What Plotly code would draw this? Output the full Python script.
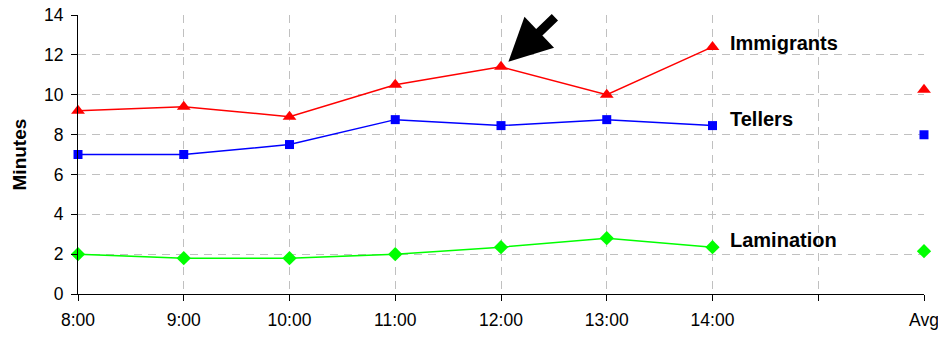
import plotly.graph_objects as go

# Hourly waiting times (minutes) per service desk, plus the overall average
categories = ["8:00", "9:00", "10:00", "11:00", "12:00", "13:00", "14:00", "", "Avg"]
hours = categories[:7]

immigrants = [9.2, 9.4, 8.9, 10.5, 11.4, 10.0, 12.4]
tellers = [7.0, 7.0, 7.5, 8.75, 8.45, 8.75, 8.45]
lamination = [2.0, 1.8, 1.8, 2.0, 2.35, 2.8, 2.35]

immigrants_avg = 10.25
tellers_avg = 7.99
lamination_avg = 2.15

y_ticks = [0, 2, 4, 6, 8, 10, 12, 14]

series = [
    ("Immigrants", immigrants, immigrants_avg, "#ff0000", "triangle-up", 12),
    ("Tellers", tellers, tellers_avg, "#0000ff", "square", 9),
    ("Lamination", lamination, lamination_avg, "#00ff00", "diamond", 11),
]

x_hours = list(range(len(hours)))
x_avg = categories.index("Avg")

fig = go.Figure()
for name, values, avg, color, symbol, size in series:
    fig.add_trace(go.Scatter(
        x=x_hours, y=values, mode="lines+markers", name=name,
        line=dict(color=color, width=1.5),
        marker=dict(color=color, symbol=symbol, size=size),
        cliponaxis=False, showlegend=False,
    ))
    fig.add_trace(go.Scatter(
        x=[x_avg], y=[avg], mode="markers", name=name + " avg",
        marker=dict(color=color, symbol=symbol, size=size),
        cliponaxis=False, showlegend=False,
    ))

# Series labels next to the last hourly point
label_pos = {"Immigrants": 12.6, "Tellers": 8.8, "Lamination": 2.71}
for name, ypos in label_pos.items():
    fig.add_annotation(
        x=6.15, y=ypos, xref="x", yref="y", text="<b>" + name + "</b>",
        showarrow=False, xanchor="left", yanchor="middle",
        font=dict(family="Liberation Sans, Arial", size=20, color="black"),
    )

# Arrow pointing at the noon peak
fig.add_annotation(
    x=4.07, y=11.65, xref="x", yref="y", text="",
    showarrow=True, arrowhead=2, arrowsize=0.95, arrowwidth=9,
    arrowcolor="black", ax=48, ay=-46, standoff=0,
)

# Y axis title
fig.add_annotation(
    x=-0.0686, y=0.5, xref="paper", yref="paper", text="<b>Minutes</b>",
    showarrow=False, textangle=-90, xanchor="center", yanchor="middle",
    font=dict(family="Liberation Sans, Arial", size=19, color="black"),
)

axis_font = dict(family="Liberation Sans, Arial", size=17.5, color="black")
grid_dash = "8px,6px"

fig.update_layout(
    width=938, height=337,
    margin=dict(l=78, r=14, t=15, b=43, autoexpand=False),
    paper_bgcolor="white", plot_bgcolor="white",
    xaxis=dict(
        range=[0, 8], tickmode="array", tickvals=list(range(len(categories))),
        ticktext=categories, tickfont=axis_font, automargin=False,
        ticklabeloverflow="allow", ticklabelstandoff=4,
        showgrid=True, gridcolor="#c0c0c0", griddash=grid_dash, gridwidth=1,
        showline=True, linecolor="#000000", linewidth=1,
        ticks="outside", ticklen=6, tickcolor="#000000",
        zeroline=False, fixedrange=True,
    ),
    yaxis=dict(
        range=[0, 14], tickmode="array", tickvals=y_ticks, tickfont=axis_font,
        automargin=False, ticklabeloverflow="allow", ticklabelstandoff=4,
        showgrid=True, gridcolor="#c0c0c0", griddash=grid_dash, gridwidth=1,
        showline=True, linecolor="#000000", linewidth=1,
        ticks="outside", ticklen=6, tickcolor="#000000",
        zeroline=False, fixedrange=True,
    ),
)

fig.write_html("out.html")
